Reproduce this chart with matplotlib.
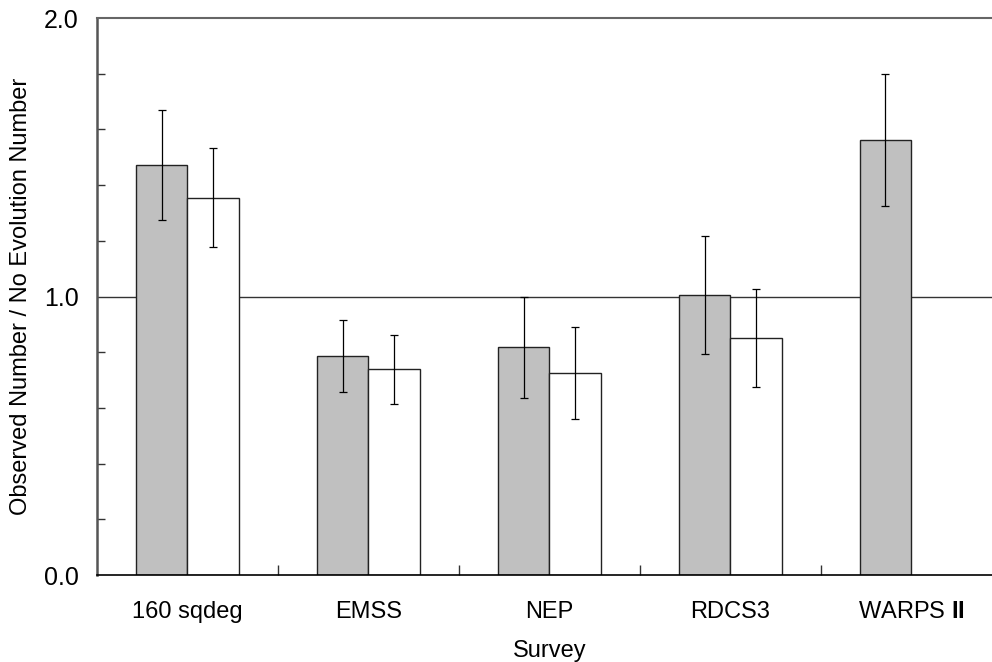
import numpy as np
import matplotlib
matplotlib.use("Agg")
import matplotlib.pyplot as plt

plt.rcParams['font.family'] = ['Liberation Sans', 'DejaVu Sans']
plt.rcParams['mathtext.fontset'] = 'custom'
plt.rcParams['mathtext.rm'] = 'Liberation Sans'
plt.rcParams['mathtext.bf'] = 'Liberation Sans:bold'

# ----------------------
# data
# ----------------------
surveys = ["160 sqdeg", "EMSS", "NEP", "RDCS3", "WARPS $\\mathbf{II}$"]

gray_vals = [1.472, 0.786, 0.819, 1.005, 1.562]
gray_err_hi = [1.670, 0.916, 1.000, 1.217, 1.799]
gray_err_lo = [1.275, 0.657, 0.636, 0.794, 1.325]

white_vals = [1.354, 0.740, 0.725, 0.851]
white_err_hi = [1.533, 0.862, 0.890, 1.027]
white_err_lo = [1.178, 0.614, 0.560, 0.675]

x = np.arange(len(surveys))
xw = np.arange(len(white_vals))
w = 0.285

fig = plt.figure(figsize=(9.92, 6.62), dpi=100)
ax = fig.add_axes([0.0978, 0.1314, 0.912, 0.8414])

gerr = [np.array(gray_vals) - np.array(gray_err_lo), np.array(gray_err_hi) - np.array(gray_vals)]
werr = [np.array(white_vals) - np.array(white_err_lo), np.array(white_err_hi) - np.array(white_vals)]

ax.bar(x - w / 2, gray_vals, width=w, color="#c0c0c0", edgecolor="#222222", linewidth=1.0, zorder=2)
ax.bar(xw + w / 2, white_vals, width=w, color="white", edgecolor="#222222", linewidth=1.0, zorder=2)
ax.errorbar(x - w / 2, gray_vals, yerr=gerr, fmt="none", ecolor="black", elinewidth=0.9, capsize=3, capthick=0.9, zorder=3)
ax.errorbar(xw + w / 2, white_vals, yerr=werr, fmt="none", ecolor="black", elinewidth=0.9, capsize=3, capthick=0.9, zorder=3)

ax.set_xlim(-0.5, 4.5)
ax.set_ylim(0, 2.0)

# reference line at 1.0
ax.axhline(1.0, color="#333333", linewidth=1.0, zorder=1)

ax.set_yticks([0.0, 1.0, 2.0])
ax.set_yticklabels(["0.0", "1.0", "2.0"])
ax.set_yticks(np.arange(0.2, 2.0, 0.2), minor=True)
ax.tick_params(axis="y", which="major", length=0, labelsize=18, pad=13)
ax.tick_params(axis="y", which="minor", direction="in", length=6, width=1, color="#333333")

ax.set_xticks(x)
ax.set_xticklabels(surveys)
ax.set_xticks([0.5, 1.5, 2.5, 3.5], minor=True)
ax.tick_params(axis="x", which="major", length=0, labelsize=17, pad=19)
ax.tick_params(axis="x", which="minor", direction="in", length=7, width=1, color="#333333")

ax.spines["right"].set_visible(False)
ax.spines["top"].set_color("#666666")
ax.spines["top"].set_linewidth(1.5)
ax.spines["left"].set_color("#555555")
ax.spines["left"].set_linewidth(1.8)
ax.spines["bottom"].set_color("black")
ax.spines["bottom"].set_linewidth(1.2)

ax.set_ylabel("Observed Number / No Evolution Number", fontsize=17, labelpad=9)
ax.set_xlabel("Survey", fontsize=17, labelpad=12)

fig.savefig("out.png", dpi=100)
